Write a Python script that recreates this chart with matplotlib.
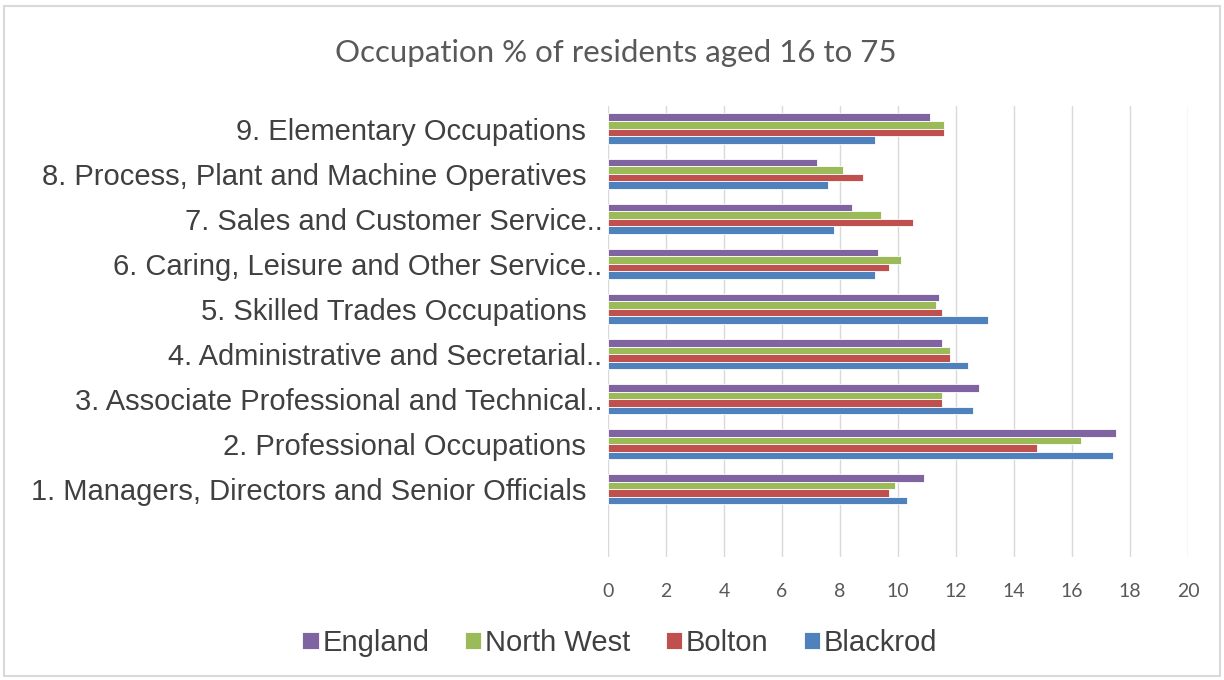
import numpy as np
import matplotlib.pyplot as plt
from matplotlib.patches import Rectangle

# occupation categories, bottom to top
categories = [
    "1. Managers, Directors and Senior Officials  ",
    "2. Professional Occupations  ",
    "3. Associate Professional and Technical..",
    "4. Administrative and Secretarial..",
    "5. Skilled Trades Occupations  ",
    "6. Caring, Leisure and Other Service..",
    "7. Sales and Customer Service..",
    "8. Process, Plant and Machine Operatives  ",
    "9. Elementary Occupations  ",
]

england = [10.9, 17.5, 12.8, 11.5, 11.4, 9.3, 8.4, 7.2, 11.1]
north_west = [9.9, 16.3, 11.5, 11.8, 11.3, 10.1, 9.4, 8.1, 11.6]
bolton = [9.7, 14.8, 11.5, 11.8, 11.5, 9.7, 10.5, 8.8, 11.6]
blackrod = [10.3, 17.4, 12.6, 12.4, 13.1, 9.2, 7.8, 7.6, 9.2]

series_names = ["England", "North West", "Bolton", "Blackrod"]
series_values = [england, north_west, bolton, blackrod]
colors = ["#8064A2", "#9BBB59", "#C0504D", "#4F81BD"]

label_font = ["Liberation Sans", "DejaVu Sans"]
text_grey = "#595959"

fig = plt.figure(figsize=(12.24, 6.8), dpi=100)
ax = fig.add_axes([608 / 1224, 1 - 557 / 680, (1188 - 608) / 1224, (557 - 106) / 680])

y = np.arange(len(categories))
h = 0.167
offsets = [1.5, 0.5, -0.5, -1.5]
handles = []
for name, vals, col, off in zip(series_names, series_values, colors, offsets):
    b = ax.barh(y + off * h, vals, height=h, color=col, edgecolor="white",
                linewidth=0.6, label=name, zorder=3)
    handles.append(b)

ax.set_xlim(0, 20)
ax.set_ylim(-1.5, 8.5)
ax.set_xticks(np.arange(0, 21, 2))
ax.set_yticks(y)
ax.set_yticklabels(categories, family=label_font, fontsize=21, color="#404040")
ax.tick_params(axis="y", length=0, pad=4)
ax.tick_params(axis="x", length=0, pad=19, labelsize=14, labelcolor=text_grey)
for lbl in ax.get_xticklabels():
    lbl.set_family(["Lato", "DejaVu Sans"])
ax.grid(axis="x", color="#D9D9D9", linewidth=1, zorder=0)
for s in ax.spines.values():
    s.set_visible(False)

fig.text(616 / 1224, 1 - 53 / 680, "Occupation % of residents aged 16 to 75",
         ha="center", va="center", fontsize=22.5, color=text_grey,
         family=["Lato", "DejaVu Sans"])

leg = fig.legend(handles=handles, labels=series_names, loc="center",
                 bbox_to_anchor=(620 / 1224, 1 - 643 / 680), ncol=4, frameon=False,
                 prop={"family": label_font, "size": 21}, handlelength=0.55,
                 handleheight=0.55, handletextpad=0.15, columnspacing=1.2)
for t in leg.get_texts():
    t.set_color("#404040")

fig.patches.append(Rectangle((4 / 1224, 4 / 680), 1 - 8 / 1224, 1 - 10 / 680,
                             transform=fig.transFigure, fill=False,
                             edgecolor="#D9D9D9", linewidth=1.5))

fig.savefig("out.png", dpi=100)
